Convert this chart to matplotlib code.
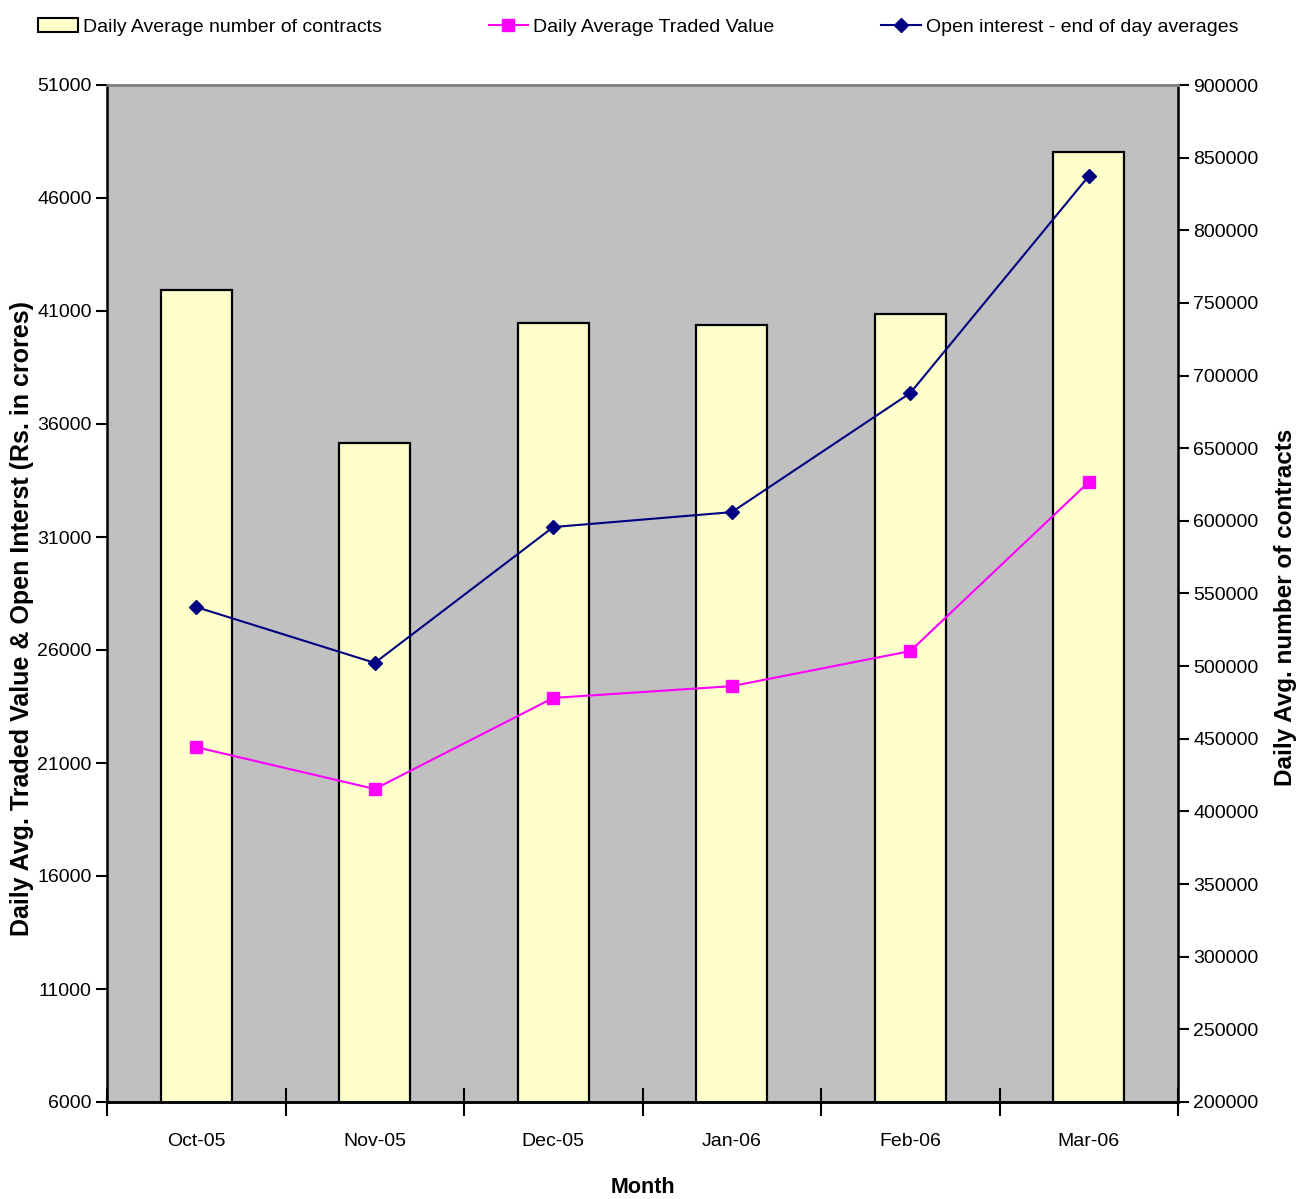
import matplotlib
matplotlib.use("Agg")
import matplotlib.pyplot as plt
import numpy as np
from matplotlib.patches import Patch
from matplotlib.lines import Line2D

plt.rcParams['font.family'] = ['Liberation Sans', 'DejaVu Sans']

months = ["Oct-05", "Nov-05", "Dec-05", "Jan-06", "Feb-06", "Mar-06"]
contracts = [759000, 653600, 736200, 734800, 742400, 853900]
traded_value = [21700, 19850, 23880, 24400, 25950, 33430]
open_interest = [27900, 25430, 31440, 32100, 37370, 46970]

left_ticks = list(range(6000, 51001, 5000))
right_ticks = list(range(200000, 900001, 50000))

BAR_FILL = "#FFFFCC"
PLOT_BG = "#C0C0C0"
VALUE_COLOR = "#FF00FF"
OI_COLOR = "#000080"

W, H = 1300, 1199
AX_L, AX_R, AX_T, AX_B = 107, 1178, 85, 1102
AX_W, AX_H = AX_R - AX_L, AX_B - AX_T

fig = plt.figure(figsize=(W / 100, H / 100), dpi=100)
ax_line = fig.add_axes([AX_L / W, 1 - AX_B / H, AX_W / W, AX_H / H])
ax_bar = ax_line.twinx()

# bars sit behind the lines: the bar axes carries the grey background
ax_bar.set_zorder(1)
ax_line.set_zorder(2)
ax_line.patch.set_visible(False)
ax_bar.patch.set_visible(True)
ax_bar.patch.set_facecolor(PLOT_BG)

x = np.arange(len(months))
ax_bar.bar(x, contracts, width=0.4, color=BAR_FILL, edgecolor="black", linewidth=1.6)
ax_bar.set_ylim(200000, 900000)
ax_bar.set_yticks(right_ticks)
ax_bar.set_yticklabels([str(v) for v in right_ticks])

ax_line.plot(x, traded_value, color=VALUE_COLOR, linewidth=1.5, marker="s", markersize=8.5,
             markeredgecolor=VALUE_COLOR)
ax_line.plot(x, open_interest, color=OI_COLOR, linewidth=1.5, marker="D", markersize=7.5,
             markeredgecolor=OI_COLOR)
ax_line.set_ylim(6000, 51000)
ax_line.set_xlim(-0.5, len(months) - 0.5)
ax_line.set_yticks(left_ticks)
ax_line.set_yticklabels([str(v) for v in left_ticks])

tick_fs = 14
for a in (ax_bar, ax_line):
    a.tick_params(axis="y", labelsize=tick_fs, length=8, width=1.5, direction="out", pad=3)
    for s in a.spines.values():
        s.set_linewidth(1.8)
    a.spines["top"].set_color("#808080")
ax_line.spines["right"].set_visible(False)
ax_bar.spines["left"].set_visible(False)

# category boundaries carry the tick marks, centres carry the labels
ax_line.set_xticks(np.arange(-0.5, len(months) - 0.4, 1.0))
ax_line.set_xticklabels([])
ax_line.tick_params(axis="x", which="major", direction="inout", length=20, width=1.5)
ax_line.set_xticks(x, minor=True)
ax_line.set_xticklabels(months, minor=True, fontsize=tick_fs)
ax_line.tick_params(axis="x", which="minor", length=0, pad=22)

ax_line.set_xlabel("Month", fontsize=15.5, fontweight="bold")
ax_line.set_ylabel("Daily Avg. Traded Value & Open Interst (Rs. in crores)", fontsize=18,
                   fontweight="bold")
ax_bar.set_ylabel("Daily Avg. number of contracts", fontsize=17.5, fontweight="bold",
                  rotation=90)

# axis titles placed in axes-fraction coordinates
ax_line.xaxis.set_label_coords(0.5, (AX_B - 1177) / AX_H)
ax_line.yaxis.set_label_coords((34 - AX_L) / AX_W, (AX_B - 618) / AX_H)
ax_bar.yaxis.set_label_coords((1274 - AX_L) / AX_W, (AX_B - 607) / AX_H)

handles = [
    Patch(facecolor=BAR_FILL, edgecolor="black", linewidth=1.5),
    Line2D([0], [0], color=VALUE_COLOR, linewidth=1.5, marker="s", markersize=8.5),
    Line2D([0], [0], color=OI_COLOR, linewidth=1.5, marker="D", markersize=7.5),
]
labels = ["Daily Average number of contracts", "Daily Average Traded Value",
          "Open interest - end of day averages"]
fig.legend(handles, labels, ncol=3, loc="center left", bbox_to_anchor=(38 / W, 1 - 27 / H),
           frameon=False, fontsize=14, handlelength=2.05, handletextpad=0.25,
           columnspacing=5.5, borderaxespad=0, borderpad=0)

fig.savefig("out.png", dpi=100)
